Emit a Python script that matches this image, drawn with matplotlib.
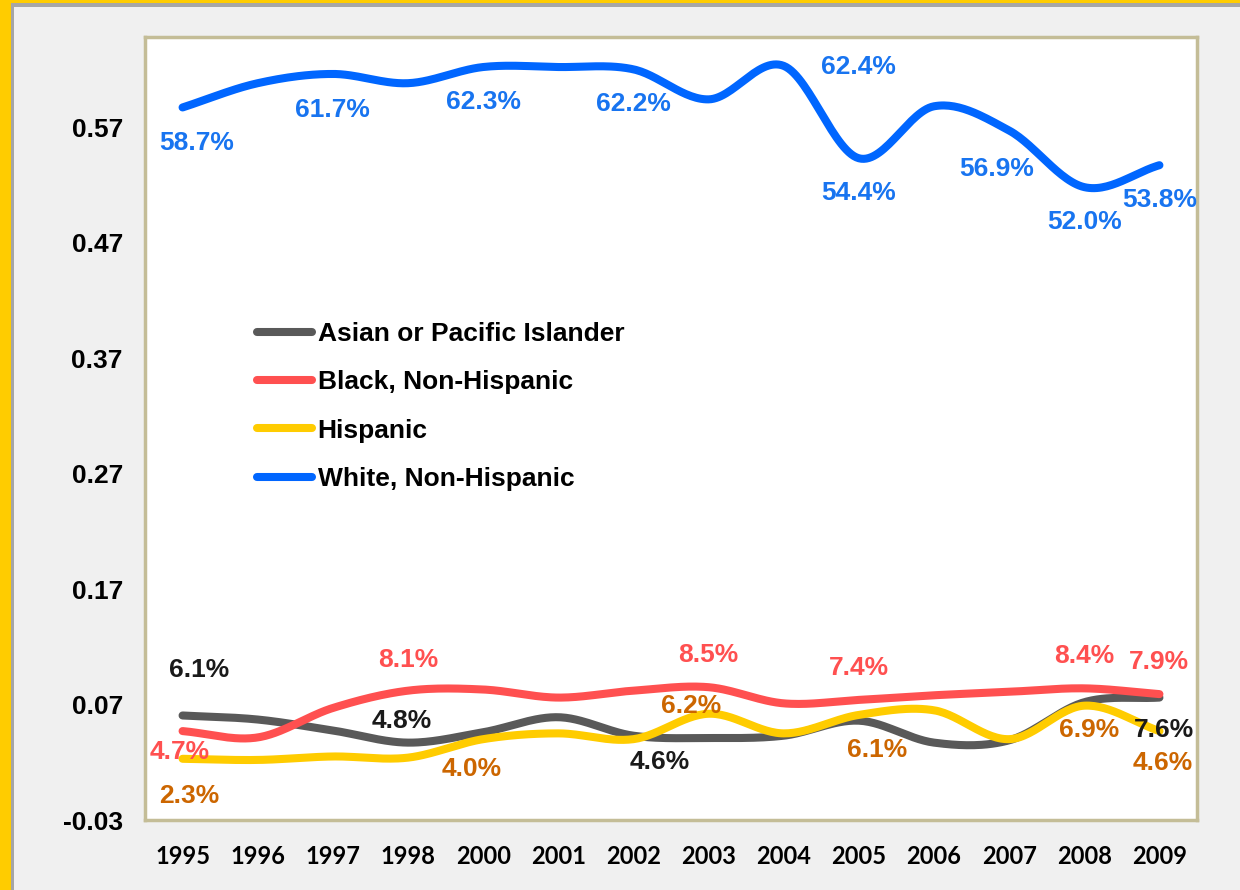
import numpy as np
import matplotlib
matplotlib.use("Agg")
import matplotlib.pyplot as plt
from matplotlib.patches import Rectangle

# ---------------- data ----------------
years = ["1995", "1996", "1997", "1998", "2000", "2001", "2002", "2003",
         "2004", "2005", "2006", "2007", "2008", "2009"]

asian = [0.0605, 0.057, 0.0475, 0.037, 0.046, 0.059, 0.043, 0.041,
         0.043, 0.056, 0.037, 0.039, 0.072, 0.076]
black = [0.047, 0.0415, 0.067, 0.082, 0.083, 0.076, 0.082, 0.085,
         0.071, 0.074, 0.078, 0.081, 0.084, 0.079]
hispanic = [0.023, 0.022, 0.025, 0.024, 0.040, 0.045, 0.040, 0.062,
            0.045, 0.061, 0.065, 0.040, 0.069, 0.047]
white = [0.587, 0.608, 0.616, 0.608, 0.622, 0.622, 0.620, 0.594,
         0.623, 0.543, 0.588, 0.567, 0.518, 0.537]

series_names = ["Asian or Pacific Islander", "Black, Non-Hispanic",
                "Hispanic", "White, Non-Hispanic"]

# data labels: (category index, text)
asian_labels = [(0, "6.1%"), (3, "4.8%"), (6, "4.6%"), (13, "7.6%")]
black_labels = [(0, "4.7%"), (3, "8.1%"), (7, "8.5%"), (9, "7.4%"),
                (12, "8.4%"), (13, "7.9%")]
hispanic_labels = [(0, "2.3%"), (4, "4.0%"), (7, "6.2%"), (9, "6.1%"),
                   (12, "6.9%"), (13, "4.6%")]
white_labels = [(0, "58.7%"), (2, "61.7%"), (4, "62.3%"), (6, "62.2%"),
                (9, "62.4%"), (9, "54.4%"), (11, "56.9%"), (12, "52.0%"),
                (13, "53.8%")]

# label offsets in pixels (dx right, dy down) - layout only
asian_off = [(17, -45), (-6, -22), (26, 26), (5, 32)]
black_off = [(-3, 21), (0, -31), (0, -32), (0, -32), (0, -32), (0, -32)]
hispanic_off = [(7, 37), (-11, 30), (-17, -8), (18, 35), (5, 24), (3, 32)]
white_off = [(14, 36), (0, 36), (0, 35), (0, 35), (0, -91), (0, 35),
             (-12, 38), (0, 35), (0, 35)]

yticks = [-0.03, 0.07, 0.17, 0.27, 0.37, 0.47, 0.57]

# ---------------- style ----------------
line_colors = ["#595959", "#FF5050", "#FFCC00", "#0066FF"]
label_colors = ["#1a1a1a", "#FF5050", "#CC6600", "#1874F0"]
FS = 19


def catmull_rom(x, y, n=30):
    x = np.asarray(x, float)
    y = np.asarray(y, float)
    P = np.column_stack([x, y])
    P = np.vstack([2 * P[0] - P[1], P, 2 * P[-1] - P[-2]])
    out = []
    t = np.linspace(0, 1, n, endpoint=False)[:, None]
    for i in range(1, len(P) - 2):
        p0, p1, p2, p3 = P[i - 1], P[i], P[i + 1], P[i + 2]
        c1 = p1 + (p2 - p0) / 6.0
        c2 = p2 - (p3 - p1) / 6.0
        seg = ((1 - t) ** 3) * p1 + 3 * ((1 - t) ** 2) * t * c1 \
            + 3 * (1 - t) * t ** 2 * c2 + t ** 3 * p2
        out.append(seg)
    out.append(P[-2][None, :])
    S = np.vstack(out)
    return S[:, 0], S[:, 1]


W, H = 1240, 890
fig = plt.figure(figsize=(W / 100, H / 100), dpi=100)
fig.patch.set_facecolor("#FFCC00")
fig.add_artist(Rectangle((11 / W, 0), 1, 1 - 3 / H, transform=fig.transFigure,
                         facecolor="#A6A6A6", edgecolor="none", zorder=-10))
fig.add_artist(Rectangle((14 / W, 0), 1, 1 - 7 / H, transform=fig.transFigure,
                         facecolor="#F0F0F0", edgecolor="none", zorder=-9))

left, right, top, bottom = 145, 1197, 37, 820
ax = fig.add_axes([left / W, 1 - bottom / H, (right - left) / W, (bottom - top) / H])
ax.set_facecolor("white")

xs = np.arange(len(years))
all_series = [asian, black, hispanic, white]
all_labels = [asian_labels, black_labels, hispanic_labels, white_labels]
all_offs = [asian_off, black_off, hispanic_off, white_off]

for s, name, c in zip(all_series, series_names, line_colors):
    sx, sy = catmull_rom(xs, s)
    ax.plot(sx, sy, color=c, lw=5.8, solid_capstyle="round",
            solid_joinstyle="round", label=name, zorder=3)

for s, labs, offs, c in zip(all_series, all_labels, all_offs, label_colors):
    for (i, txt), (dx, dy) in zip(labs, offs):
        ax.annotate(txt, xy=(i, s[i]), xytext=(dx, -dy),
                    textcoords="offset pixels", ha="center", va="center",
                    fontsize=FS, fontweight="bold", color=c,
                    family="Liberation Sans", zorder=5)

ax.set_xlim(-0.5, len(years) - 0.5)
ax.set_ylim(-0.03, 0.648)
ax.set_xticks(xs)
ax.set_xticklabels(years, fontsize=17, fontweight="bold", family="Lato")
ax.set_yticks(yticks)
ax.set_yticklabels([f"{v:.2f}" for v in yticks], fontsize=FS,
                   fontweight="bold", family="Liberation Sans")
ax.tick_params(axis="both", length=0)
ax.tick_params(axis="y", pad=16)
ax.tick_params(axis="x", pad=18)

for sp in ax.spines.values():
    sp.set_color("#C4BD97")
    sp.set_linewidth(2.5)

leg = ax.legend(loc="upper left",
                bbox_to_anchor=((257 - left) / (right - left),
                                (bottom - 322) / (bottom - top)),
                frameon=False, borderpad=0, borderaxespad=0,
                handlelength=2.1, handletextpad=0.2, labelspacing=0.92,
                prop={"family": "Liberation Sans", "weight": "bold", "size": FS})
for line in leg.get_lines():
    line.set_linewidth(5.8)
    line.set_solid_capstyle("round")

fig.savefig("out.png", dpi=100, facecolor=fig.get_facecolor())
